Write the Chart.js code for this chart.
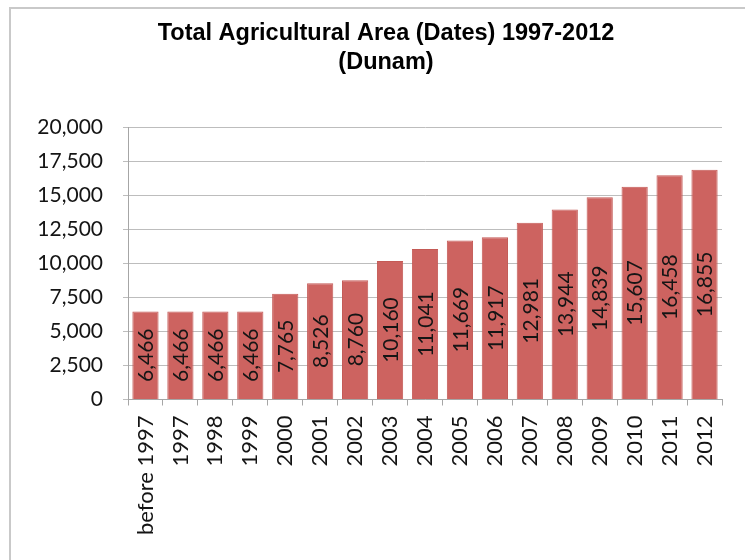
<!DOCTYPE html>
<html>
<head>
<meta charset="utf-8">
<script src="https://cdn.jsdelivr.net/npm/chart.js@4.4.1/dist/chart.umd.min.js"></script>
<style>
  html, body { margin: 0; padding: 0; background: #fff; overflow: hidden; }
  #frame {
    position: absolute; left: 9px; top: 7px; width: 745px; height: 560px;
    border-left: 2px solid #c9c9c9; border-top: 2px solid #c9c9c9;
  }
  #wrap { position: absolute; left: 0; top: 0; width: 745px; height: 560px; }
</style>
</head>
<body>
<div id="frame"></div>
<div id="wrap"><canvas id="chart"></canvas></div>
<script>
"use strict";

// Data
const categories = ["before 1997", "1997", "1998", "1999", "2000", "2001", "2002", "2003",
  "2004", "2005", "2006", "2007", "2008", "2009", "2010", "2011", "2012"];
const areaValues = [6466, 6466, 6466, 6466, 7765, 8526, 8760, 10160,
  11041, 11669, 11917, 12981, 13944, 14839, 15607, 16458, 16855];
const titleLines = ["Total Agricultural Area (Dates) 1997-2012", "(Dunam)"];

const fmt = v => Number(v).toLocaleString("en-US");
const labelFont = "Lato, 'Open Sans', sans-serif";

// title is drawn by hand so it can sit a little left of the plot centre, like the original
const titleBlock = {
  id: "titleBlock",
  afterDraw(chart) {
    const ctx = chart.ctx;
    ctx.save();
    ctx.font = "bold 23.5px 'Liberation Sans', Arial, sans-serif";
    ctx.fillStyle = "#000";
    ctx.textAlign = "center";
    ctx.textBaseline = "middle";
    titleLines.forEach((line, i) => ctx.fillText(line, 386, 34 + i * 29));
    ctx.restore();
  }
};

// draws the rotated value text in the middle of each bar
const barLabels = {
  id: "barLabels",
  afterDatasetsDraw(chart) {
    const ctx = chart.ctx;
    const meta = chart.getDatasetMeta(0);
    ctx.save();
    ctx.font = "21px " + labelFont;
    ctx.fillStyle = "#151515";
    ctx.textAlign = "center";
    ctx.textBaseline = "middle";
    meta.data.forEach((bar, i) => {
      const cy = (bar.y + bar.base) / 2;
      ctx.save();
      ctx.translate(bar.x, cy);
      ctx.rotate(-Math.PI / 2);
      ctx.fillText(fmt(areaValues[i]), 0, 1);
      ctx.restore();
    });
    ctx.restore();
  }
};

new Chart(document.getElementById("chart"), {
  type: "bar",
  data: {
    labels: categories,
    datasets: [{
      data: areaValues,
      backgroundColor: "#cd6360",
      borderColor: "#c45a56",
      borderWidth: 1,
      barPercentage: 0.75,
      categoryPercentage: 1,
    }],
  },
  options: {
    responsive: true,
    maintainAspectRatio: false,
    animation: false,
    layout: { padding: { left: 20, right: 23, top: 127, bottom: 15 } },
    plugins: {
      legend: { display: false },
      tooltip: { enabled: false },
      title: { display: false },
    },
    scales: {
      x: {
        grid: { display: true, drawOnChartArea: false, offset: true, tickLength: 6, color: "#a6a6a6" },
        border: { color: "#a6a6a6" },
        ticks: {
          color: "#141414",
          font: { family: labelFont, size: 22 },
          minRotation: 90, maxRotation: 90,
          padding: 10,
          autoSkip: false,
        },
      },
      y: {
        min: 0, max: 20000,
        afterFit(scale) { scale.width = 108; },
        grid: { color: "#bdbdbd", tickLength: 5 },
        border: { color: "#a6a6a6" },
        ticks: {
          stepSize: 2500,
          color: "#141414",
          font: { family: labelFont, size: 21 },
          padding: 20,
          callback: v => fmt(v),
        },
      },
    },
  },
  plugins: [barLabels, titleBlock],
});
</script>
</body>
</html>
